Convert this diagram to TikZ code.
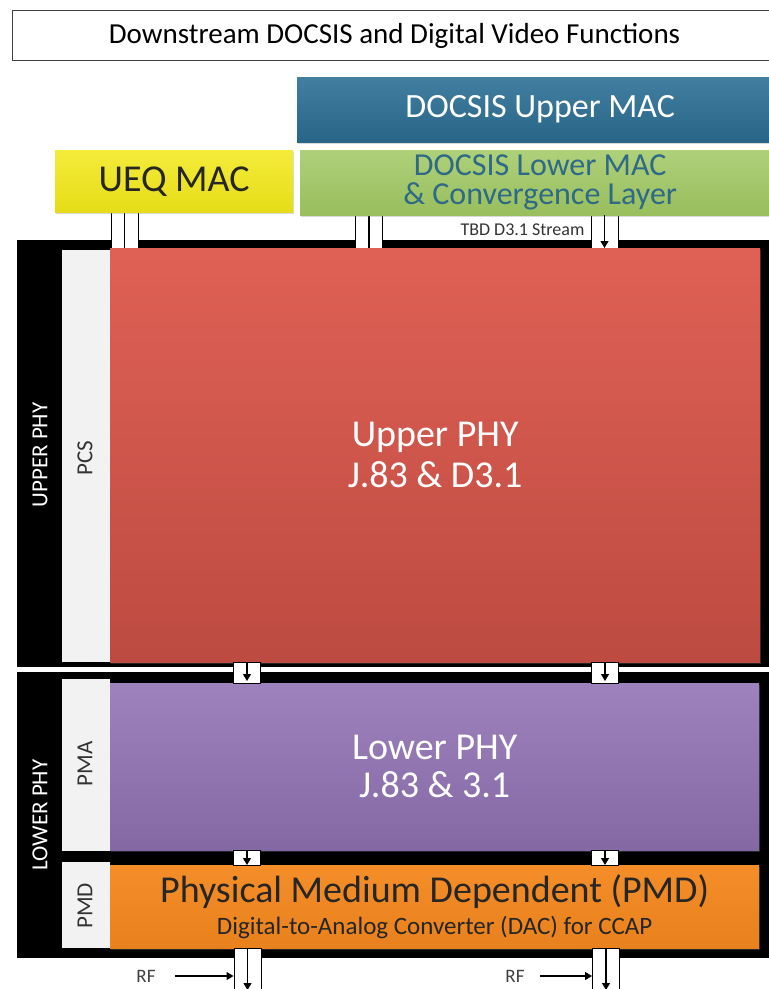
\documentclass[tikz,border=0pt]{standalone}
\usepackage{fontspec}
\setmainfont{Carlito}
\usetikzlibrary{positioning,arrows.meta,calc,shadows}
\definecolor{macblue}{RGB}{44,112,150}
\definecolor{macgreen}{RGB}{160,200,98}
\definecolor{macteal}{RGB}{46,105,135}
\definecolor{ueqyellow}{RGB}{242,232,24}
\definecolor{phyred}{RGB}{222,88,76}
\definecolor{phypurple}{RGB}{146,116,182}
\definecolor{pmdorange}{RGB}{244,136,30}
\definecolor{colgray}{RGB}{242,242,242}
\newcommand{\fsz}[2]{\fontsize{#1}{#2}\selectfont}

\begin{document}
\begin{tikzpicture}[x=1pt,y=-1pt,>={Triangle[length=7pt,width=8pt]},
    layer/.style={anchor=north west,inner sep=0pt,align=center,
                  drop shadow={shadow xshift=1pt,shadow yshift=-2pt,opacity=0.3}},
    link/.style={draw,fill=white,line width=1pt,inner sep=0pt,minimum width=27pt,anchor=north},
    flow/.style={->,line width=1.1pt},
    side/.style={rotate=90,inner sep=0pt,font=\fsz{23}{23}}]
  \clip (0,0) rectangle (769,989);
  \node[draw=black!75,line width=1.2pt,anchor=north west,inner sep=0pt,
        minimum width=764pt,minimum height=50pt,font=\fsz{29}{29}] (title) at (12,10)
        {Downstream DOCSIS and Digital Video Functions};
  % black frames and side columns
  \fill (17,240) rectangle (780,667);
  \fill (17,672) rectangle (780,958);
  \fill[colgray] (62,250) rectangle (110,662);
  \fill[colgray] (62,679) rectangle (110,851);
  \fill[colgray] (62,862) rectangle (110,948);
  \node[side,white] (upper) at (40,455) {UPPER PHY};
  \node[side,white] (lower) at (40,815) {LOWER PHY};
  \node[side,black!80] (pcs) at (85,458) {PCS};
  \node[side,black!80] (pma) at (85,764) {PMA};
  \node[side,black!80] (pmdcol) at (85,906) {PMD};
  % links into the upper PHY
  \node[link,minimum height=38pt] (ueqlink) at (124.5,212) {};
  \node[link,minimum height=36pt] (maclink) at (369,214) {};
  \node[link,minimum height=36pt] (tbdlink) at (604.5,214) {};
  \draw[line width=1.1pt] (ueqlink.north) -- (ueqlink.south);
  \draw[line width=1.1pt] (maclink.north) -- (maclink.south);
  \node[anchor=east,font=\fsz{18}{18},black!80] (tbd) at (588,230) {TBD D3.1 Stream};
  % layers
  \node[layer,top color=macblue!90!white,bottom color=macblue!90!black,
        minimum width=486pt,minimum height=65pt,text=white,font=\fsz{34}{34}] (upmac) at (297,77)
        {DOCSIS Upper MAC};
  \node[layer,top color=ueqyellow!85!white,bottom color=ueqyellow!95!black,
        minimum width=238pt,minimum height=62pt,text=black!85,font=\fsz{38}{38}] (ueq) at (55,150)
        {UEQ MAC};
  \node[layer,top color=macgreen!85!white,bottom color=macgreen!95!black,
        minimum width=480pt,minimum height=65pt,text=macteal,font=\fsz{32}{29}] (lowmac) at (300,150)
        {DOCSIS Lower MAC\\\& Convergence Layer};
  \node[layer,top color=phyred!95!white,bottom color=phyred!85!black,
        minimum width=650pt,minimum height=414pt,text=white,font=\fsz{38}{41}] (upphy) at (110,248)
        {Upper PHY\\J.83 \& D3.1};
  \node[layer,top color=phypurple!90!white,bottom color=phypurple!90!black,
        minimum width=649pt,minimum height=167pt,text=white,font=\fsz{38}{38}] (lowphy) at (110,683)
        {Lower PHY\\J.83 \& 3.1};
  \node[layer,top color=pmdorange!95!white,bottom color=pmdorange!95!black,
        minimum width=649pt,minimum height=83pt,text=black!85] (pmd) at (110,865)
        {\fsz{38}{38}Physical Medium Dependent (PMD)\\[7pt]\fsz{25}{25}Digital-to-Analog Converter (DAC) for CCAP};
  \draw[flow] (lowmac.south -| tbdlink) -- (upphy.north -| tbdlink);
  % links between the PHY layers
  \node[link,minimum height=21pt] (midA) at (247,662) {};
  \node[link,minimum height=21pt] (midB) at (605,662) {};
  \node[link,minimum height=15pt] (lowA) at (247,850) {};
  \node[link,minimum height=15pt] (lowB) at (605,850) {};
  \node[link,minimum height=44pt] (outA) at (247.5,948) {};
  \node[link,minimum height=44pt] (outB) at (606,948) {};
  \foreach \l in {midA,midB}
    \draw[flow,shorten >=2pt] (upphy.south -| \l) -- (lowphy.north -| \l);
  \foreach \l in {lowA,lowB}
    \draw[flow] (lowphy.south -| \l) -- (pmd.north -| \l);
  \foreach \l in {outA,outB}
    \draw[flow,shorten >=3pt] (pmd.south -| \l) -- (\l.south);
  % RF inputs
  \node[font=\fsz{19}{19},black!75] (rfA) at (146,976) {RF};
  \node[font=\fsz{19}{19},black!75] (rfB) at (515,976) {RF};
  \draw[flow,shorten <=16pt] (rfA.east) -- (rfA -| outA.west);
  \draw[flow,shorten <=12pt] (rfB.east) -- (rfB -| outB.west);
\end{tikzpicture}
\end{document}
